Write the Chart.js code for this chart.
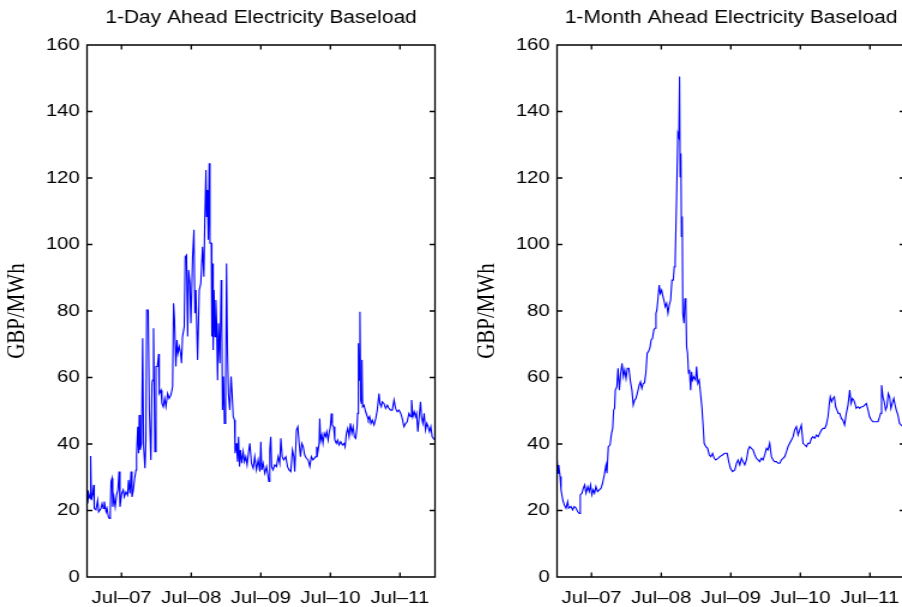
<!DOCTYPE html>
<html><head><meta charset="utf-8">
<script src="https://cdn.jsdelivr.net/npm/chart.js@4.4.1/dist/chart.umd.min.js"></script>
<style>
html,body{margin:0;padding:0;background:#fff;overflow:hidden}
#page{position:relative;width:902px;height:607px;overflow:hidden;background:#fff}
.panel{position:absolute;top:0;width:392px;height:607px;transform:scaleX(1.2);transform-origin:0 0}
#p1{left:0}
#p2{left:470px}
canvas{display:block}
</style></head><body>
<div id="page">
<div class="panel" id="p1"><canvas id="c1" width="392" height="607" style="width:392px;height:607px"></canvas></div>
<div class="panel" id="p2"><canvas id="c2" width="392" height="607" style="width:392px;height:607px"></canvas></div>
</div>
<script>
// x values: days since 2007-01-01
const tickDays = [181, 547, 912, 1277, 1642];
const tickLabels = ['Jul\u201307', 'Jul\u201308', 'Jul\u201309', 'Jul\u201310', 'Jul\u201311'];
const yTicks = [0, 20, 40, 60, 80, 100, 120, 140, 160];
const titles = ['1-Day Ahead Electricity Baseload', '1-Month Ahead Electricity Baseload'];
const yLabel = 'GBP/MWh';

const dayAheadDays = [
0,3,9,16,19,23,30,35,38,47,
56,61,73,79,86,91,100,105,112,117,
122,126,131,135,141,148,155,162,168,173,
182,190,196,204,213,218,225,231,236,243,
250,257,260,266,271,274,279,286,292,297,
304,309,313,321,327,335,341,344,349,356,
362,369,376,379,388,393,400,407,414,423,
431,440,449,454,459,466,472,477,484,491,
496,501,510,515,522,528,533,540,545,554,
561,566,571,580,589,597,606,613,618,624,
627,632,636,641,645,652,655,659,662,666,
671,676,680,685,690,697,704,707,711,716,
721,727,732,737,742,749,756,762,767,774,
777,784,790,795,800,805,812,819,826,833,
840,847,854,863,872,880,889,898,907,912,
917,924,933,942,949,954,959,964,969,976,
985,994,1003,1011,1017,1024,1032,1043,1052,1060,
1069,1078,1085,1090,1099,1106,1113,1120,1127,1134,
1142,1151,1160,1169,1177,1186,
1200,1205,1210,1218,1221,1226,1232,1238,1245,1252,
1258,1265,1270,1277,1282,1287,1294,1300,1308,1315,
1322,1331,1340,1349,1354,1361,1368,1375,1382,1389,
1396,1403,1410,1417,1420,1424,1427,1432,1436,1440,
1443,1446,1453,1462,1471,1476,1483,1490,1497,1506,
1515,1523,1532,1537,1544,1549,1558,1567,1576,1584,
1593,1602,1611,1619,1628,1637,1646,1654,1663,1672,
1680,1689,1698,1703,1710,1717,1724,1729,1736,1743,
1750,1755,1762,1769,1776,1783,1790,1797,1804,1811,
1818,1824];
const dayAheadPrices = [
26.2,22.1,25.1,23.6,36.4,23.1,25.1,27.7,20.6,20.2,
23.1,19.6,20.6,22.1,20.6,22.7,19.6,20.6,18.1,17.6,
20.1,28.7,29.7,21.1,24.1,21.1,24.6,26.2,31.7,21.1,
25.1,26.2,24.1,25.6,24.6,29.2,25.1,31.7,24.1,26.2,
29.7,32.2,36.7,45.2,37.2,48.7,38.2,40.2,71.8,39.2,
32.7,41.2,80.3,80.3,50.2,35.2,58.2,59.2,74.8,37.7,
63.3,63.3,67.1,55.2,56.2,52.2,51.2,53.7,51.2,55.2,
53.7,54.7,57.2,82.3,77.3,63.3,71.3,67.3,69.3,67.3,
64.3,72.3,75.3,96.3,96.8,72.3,92.3,88.3,76.3,96.3,
104.4,79.3,86.3,65.3,86.3,88.3,99.3,90.3,107.4,122.4,
108.4,116.4,101.4,124.4,100.4,100.4,72.3,94.3,68.3,86.3,
72.3,83.3,76.3,59.2,76.3,64.3,89.3,77.3,50.2,60.3,
46.2,56.2,94.3,67.3,55.2,50.2,60.3,54.2,48.2,47.2,
37.2,40.2,34.7,42.2,33.2,38.2,34.2,37.7,34.7,36.2,
33.7,37.2,40.2,34.2,32.7,36.2,32.2,35.2,31.7,40.7,
32.2,34.2,31.2,33.2,30.7,28.7,38.2,42.2,33.2,32.2,
33.7,33.2,36.2,34.2,41.7,36.2,35.2,36.2,33.2,32.2,
31.7,38.2,36.2,31.7,44.2,45.2,40.2,36.2,40.2,39.2,
36.7,35.7,35.2,33.2,36.2,35.2,
36.2,39.2,37.2,40.2,47.7,41.2,42.7,40.2,43.2,42.2,
43.7,41.2,43.2,45.2,49.2,45.7,45.2,41.2,40.2,41.2,
39.7,40.7,39.7,40.2,39.2,43.2,44.7,42.2,46.2,43.2,
45.2,42.2,41.7,45.2,49.2,70.3,59.2,79.8,53.2,52.2,
65.3,51.2,51.7,49.7,48.2,47.2,48.2,46.2,47.2,45.7,
47.7,50.2,55.2,52.2,51.2,52.7,52.2,50.7,51.7,50.7,
50.2,50.2,53.2,50.7,49.7,50.2,49.2,47.7,45.2,46.2,
46.7,49.2,48.2,53.2,48.2,49.7,48.2,49.2,43.7,48.2,
52.7,48.2,46.2,49.2,44.2,46.2,45.2,43.7,45.2,42.2,
41.7,41.2];

const monthAheadDays = [
0,5,9,16,21,30,38,47,56,61,
73,82,91,100,108,117,122,131,138,145,
152,161,169,176,183,190,197,204,213,222,
231,239,248,257,262,269,278,286,292,297,
302,306,314,320,327,334,341,348,355,362,
369,377,384,393,400,407,414,423,431,438,
445,452,459,466,473,480,487,494,501,508,
514,519,524,529,536,542,549,554,561,568,
575,582,589,596,603,610,615,620,627,634,
639,643,646,650,653,657,660,666,671,676,
680,685,690,695,701,706,711,718,727,732,
739,746,753,760,767,772,781,790,799,807,
816,825,833,845,854,868,880,893,901,910,
921,933,942,950,959,968,976,985,994,1003,
1011,1020,1029,1038,1046,1055,1064,1072,1081,1090,
1099,1107,1116,1125,1134,1142,1151,1160,1169,1177,
1186,1195,1204,1212,1221,1230,1239,1247,1256,1265,
1273,1282,1291,1300,1309,1317,1326,1335,1343,1352,
1361,1370,1379,1387,1396,1405,1413,1422,1429,1434,
1441,1448,1455,1462,1469,1476,1483,1492,1500,1509,
1518,1527,1536,1543,1550,1557,1563,1570,1579,1588,
1597,1605,1614,1623,1632,1640,1649,1658,1675,1684,
1693,1698,1703,1710,1717,1724,1731,1738,1745,1752,
1759,1767,1774,1780,1789,1797,1806,1815,1825];
const monthAheadPrices = [
35.2,31.2,33.7,30.2,26.2,23.2,21.7,20.7,22.7,20.7,
21.2,20.2,21.2,20.7,19.7,19.1,24.7,25.2,26.7,27.7,
25.2,27.2,25.7,27.7,24.7,26.2,25.2,27.2,25.7,26.2,
26.7,28.2,30.7,33.7,31.2,39.2,39.7,43.2,44.7,50.2,
50.7,56.2,57.2,62.8,56.2,61.2,64.3,60.3,62.3,59.7,
62.8,62.8,59.2,56.2,51.7,53.2,53.7,55.7,57.7,58.7,
56.7,58.2,58.4,61.3,67.3,67.8,68.8,71.3,71.8,74.3,
74.8,79.3,80.3,83.3,87.8,85.3,86.3,84.8,83.3,81.3,
82.3,79.3,81.8,83.3,89.3,89.3,93.3,95.3,113.4,133.4,
132.4,150.5,120.4,127.4,102.4,108.4,79.3,76.3,83.8,81.3,
69.3,67.2,61.3,62.3,56.2,61.7,59.2,60.2,59.2,63.3,
58.2,59.2,55.2,51.2,45.2,40.2,39.2,38.7,36.7,36.2,
37.2,35.7,35.2,35.7,36.2,36.7,37.2,37.2,34.7,32.7,
31.7,32.2,34.2,35.2,33.7,35.7,34.7,33.7,35.2,38.2,
39.2,38.7,38.2,36.7,35.7,35.2,34.7,35.7,35.2,36.7,
38.7,38.2,40.2,36.2,35.2,34.7,34.7,34.2,34.2,35.2,
35.7,36.2,37.7,39.2,40.2,41.2,42.2,44.2,45.2,42.7,
44.2,45.7,40.2,39.7,39.2,40.2,40.2,41.7,42.2,41.7,
42.7,42.2,43.2,44.2,44.7,44.7,45.7,48.2,52.2,54.2,
52.7,53.7,54.2,51.2,50.2,49.2,49.2,47.7,47.2,45.7,
49.2,51.7,56.2,52.2,53.7,53.2,52.2,50.7,51.2,50.7,
51.2,51.2,51.7,52.2,50.2,48.2,47.2,46.7,46.7,46.7,
48.2,49.2,57.7,54.2,52.7,50.2,51.2,55.2,54.2,50.7,
52.2,53.7,51.7,50.2,48.7,46.2,45.7,45.2,44.6];

const boxPlugin = {
  id: 'matlabBox',
  afterDatasetsDraw(chart) {
    const { ctx, chartArea: a, scales } = chart;
    const xs = scales.x, ys = scales.y;
    ctx.save();
    ctx.strokeStyle = '#000';
    ctx.lineWidth = 1.3;
    ctx.beginPath();
    ctx.rect(a.left, a.top, a.right - a.left, a.bottom - a.top);
    xs.ticks.forEach(t => {
      const px = xs.getPixelForValue(t.value);
      ctx.moveTo(px, a.bottom); ctx.lineTo(px, a.bottom - 4.5);
      ctx.moveTo(px, a.top); ctx.lineTo(px, a.top + 4.5);
    });
    ys.ticks.forEach(t => {
      const py = ys.getPixelForValue(t.value);
      ctx.moveTo(a.left, py); ctx.lineTo(a.left + 4.5, py);
      ctx.moveTo(a.right, py); ctx.lineTo(a.right - 4.5, py);
    });
    ctx.stroke();
    ctx.restore();
  }
};

function makeChart(id, title, days, prices) {
  const pts = days.map((d, i) => ({ x: d, y: prices[i] }));
  return new Chart(document.getElementById(id), {
    type: 'line',
    data: { datasets: [{ data: pts, borderColor: '#0000ff', borderWidth: 1.1, pointRadius: 0, tension: 0, fill: false }] },
    options: {
      responsive: false, animation: false, devicePixelRatio: 1,
      layout: { padding: { left: 0, right: 29.5, top: 0, bottom: 0 } },
      plugins: {
        legend: { display: false }, tooltip: { enabled: false },
        title: { display: true, text: title, fullSize: false, color: '#000',
          font: { family: 'Liberation Sans', size: 17.5, weight: 'normal' },
          padding: { top: 7.5, bottom: 16.5 } }
      },
      scales: {
        x: {
          type: 'linear', min: 0, max: 1826,
          afterBuildTicks: s => { s.ticks = tickDays.map(v => ({ value: v })); },
          afterFit: s => { s.height = 30; },
          grid: { display: false, drawTicks: false }, border: { display: false },
          ticks: { autoSkip: false, maxRotation: 0, padding: 11.5, color: '#000',
            font: { family: 'Liberation Sans', size: 17 },
            callback: v => tickLabels[tickDays.indexOf(v)] }
        },
        y: {
          min: 0, max: 160,
          afterBuildTicks: s => { s.ticks = yTicks.map(v => ({ value: v })); },
          afterFit: s => { s.width = 72.5; },
          grid: { display: false, drawTicks: false }, border: { display: false },
          ticks: { padding: 6, color: '#000', font: { family: 'Liberation Sans', size: 17 } },
          title: { display: true, text: yLabel, color: '#000',
            font: { family: 'Liberation Serif', size: 21 }, padding: { top: 2, bottom: 0 } }
        }
      }
    },
    plugins: [boxPlugin]
  });
}

makeChart('c1', titles[0], dayAheadDays, dayAheadPrices);
makeChart('c2', titles[1], monthAheadDays, monthAheadPrices);
</script>
</body></html>
